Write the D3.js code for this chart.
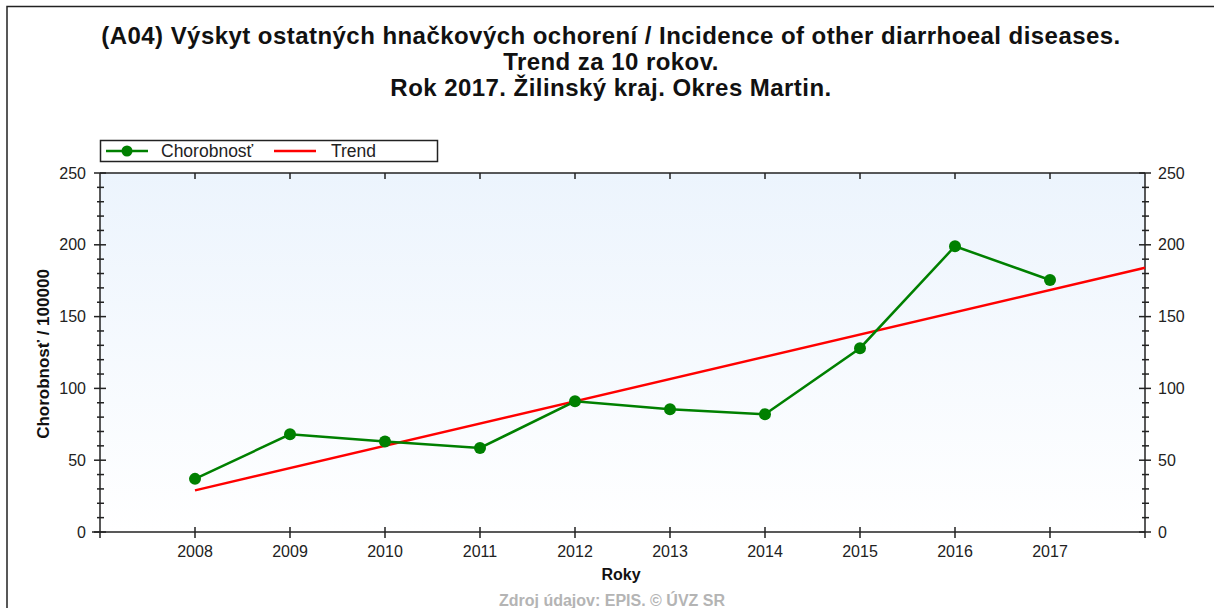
<!DOCTYPE html>
<html><head><meta charset="utf-8">
<script src="https://cdn.jsdelivr.net/npm/d3@7"></script>
<style>body{margin:0;background:#fff}svg{display:block}text{font-family:"Liberation Sans",Arial,sans-serif}</style>
</head><body>
<svg id="c" width="1214" height="608"></svg>
<script>
const years = [2008,2009,2010,2011,2012,2013,2014,2015,2016,2017];
const incidence = [37,68,63,58.5,91,85.5,82,128,199,175.5];
const trendYears = [2008,2018];
const trendValues = [29,184];
const yTicks = [0,50,100,150,200,250];
const titleLines = ["(A04) Výskyt ostatných hnačkových ochorení / Incidence of other diarrhoeal diseases.","Trend za 10 rokov.","Rok 2017. Žilinský kraj. Okres Martin."];

const svg = d3.select("#c");
const L=100, R=1145, T=173, B=532;
const x = d3.scaleLinear().domain([2007,2018]).range([L,R]);
const y = d3.scaleLinear().domain([0,250]).range([B,T]);

// outer frame
svg.append("rect").attr("x",7).attr("y",6.5).attr("width",1214).attr("height",700).attr("fill","none").attr("stroke","#222").attr("stroke-width",1.5);

// gradient background
const defs = svg.append("defs");
const g = defs.append("linearGradient").attr("id","bg").attr("x1",0).attr("y1",0).attr("x2",0).attr("y2",1);
g.append("stop").attr("offset","0%").attr("stop-color","#ecf4fd");
g.append("stop").attr("offset","100%").attr("stop-color","#ffffff");
svg.append("rect").attr("x",L).attr("y",T).attr("width",R-L).attr("height",B-T).attr("fill","url(#bg)");

// title
const tt = svg.append("text").attr("text-anchor","middle").attr("font-size",24).attr("font-weight","bold").attr("fill","#111").attr("letter-spacing",0.45);
titleLines.forEach((t,i)=>tt.append("tspan").attr("x",611).attr("y",43.5+i*26.3).text(t));

// axes
const tc="#222";
const ax = svg.append("g").attr("stroke",tc).attr("stroke-width",1.5);
ax.append("line").attr("x1",L).attr("x2",R).attr("y1",T).attr("y2",T);
ax.append("line").attr("x1",L-8).attr("x2",R).attr("y1",B).attr("y2",B);
ax.append("line").attr("x1",L).attr("x2",L).attr("y1",T).attr("y2",B+6);
ax.append("line").attr("x1",R).attr("x2",R).attr("y1",T).attr("y2",B+6);

// y ticks minor & major
const minor = d3.range(0,251,10);
minor.forEach(v=>{
  const major = v%50===0;
  const yy = y(v);
  if(major){
    ax.append("line").attr("x1",L-6).attr("x2",L+6).attr("y1",yy).attr("y2",yy);
    ax.append("line").attr("x1",R-6).attr("x2",R+6).attr("y1",yy).attr("y2",yy);
  } else {
    ax.append("line").attr("x1",L-3).attr("x2",L+4).attr("y1",yy).attr("y2",yy);
    ax.append("line").attr("x1",R-3).attr("x2",R+4).attr("y1",yy).attr("y2",yy);
  }
});
yTicks.forEach(v=>{
  svg.append("text").attr("x",86).attr("y",y(v)+5.5).attr("text-anchor","end").attr("font-size",16).attr("fill","#222").text(v);
  svg.append("text").attr("x",1158).attr("y",y(v)+5.5).attr("text-anchor","start").attr("font-size",16).attr("fill","#222").text(v);
});
// x ticks
years.forEach(v=>{
  ax.append("line").attr("x1",x(v)).attr("x2",x(v)).attr("y1",B-5).attr("y2",B+6);
  ax.append("line").attr("x1",x(v)).attr("x2",x(v)).attr("y1",T).attr("y2",T+6);
  svg.append("text").attr("x",x(v)).attr("y",B+25).attr("text-anchor","middle").attr("font-size",16).attr("fill","#222").text(v);
});

// axis titles
svg.append("text").attr("transform","translate(49,354) rotate(-90)").attr("text-anchor","middle").attr("font-size",17).attr("font-weight","bold").attr("fill","#111").text("Chorobnosť / 100000");
svg.append("text").attr("x",621).attr("y",580).attr("text-anchor","middle").attr("font-size",16).attr("font-weight","bold").attr("fill","#111").text("Roky");
svg.append("text").attr("x",612).attr("y",606).attr("text-anchor","middle").attr("font-size",16).attr("font-weight","bold").attr("fill","#b4b4b4").text("Zdroj údajov: EPIS. © ÚVZ SR");

// trend
svg.append("path").datum(trendYears.map((d,i)=>[d,trendValues[i]]))
  .attr("d",d3.line().x(d=>x(d[0])).y(d=>y(d[1]))).attr("fill","none").attr("stroke","#ff0000").attr("stroke-width",2.5);
// series
const pts = years.map((d,i)=>[d,incidence[i]]);
svg.append("path").datum(pts).attr("d",d3.line().x(d=>x(d[0])).y(d=>y(d[1]))).attr("fill","none").attr("stroke","#008000").attr("stroke-width",2.5);
svg.selectAll("circle.p").data(pts).join("circle").attr("cx",d=>x(d[0])).attr("cy",d=>y(d[1])).attr("r",6).attr("fill","#008000");

// legend
svg.append("rect").attr("x",100.5).attr("y",140.5).attr("width",337).attr("height",21).attr("fill","#fff").attr("stroke","#222").attr("stroke-width",1.5);
svg.append("line").attr("x1",106).attr("x2",148).attr("y1",151).attr("y2",151).attr("stroke","#008000").attr("stroke-width",2.5);
svg.append("circle").attr("cx",127).attr("cy",151).attr("r",5.5).attr("fill","#008000");
svg.append("text").attr("x",161).attr("y",157).attr("font-size",17.5).attr("fill","#222").text("Chorobnosť");
svg.append("line").attr("x1",274).attr("x2",316).attr("y1",151).attr("y2",151).attr("stroke","#ff0000").attr("stroke-width",2.5);
svg.append("text").attr("x",331).attr("y",157).attr("font-size",17.5).attr("fill","#222").text("Trend");
</script>
</body></html>
